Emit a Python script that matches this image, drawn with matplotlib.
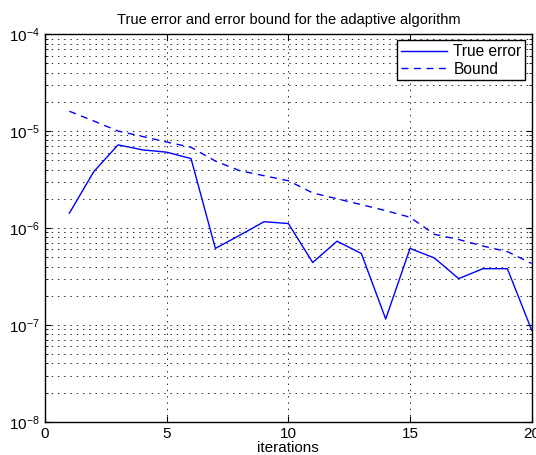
import numpy as np
import matplotlib
matplotlib.use('Agg')
from matplotlib import pyplot as plt
from matplotlib.ticker import LogLocator, NullFormatter

plt.rcParams['font.family'] = ['Liberation Sans', 'DejaVu Sans']
plt.rcParams['lines.scale_dashes'] = False

iterations = np.arange(1, 21)
true_error = [1.42e-6, 3.8e-6, 7.2e-6, 6.4e-6, 6.05e-6, 5.2e-6, 6.15e-7, 8.4e-7, 1.16e-6, 1.11e-6,
              4.4e-7, 7.3e-7, 5.45e-7, 1.15e-7, 6.15e-7, 4.9e-7, 3.0e-7, 3.8e-7, 3.8e-7, 8.8e-8]
bound = [1.6e-5, 1.27e-5, 1.0e-5, 8.8e-6, 7.7e-6, 6.8e-6, 4.9e-6, 3.9e-6, 3.46e-6, 3.07e-6,
         2.3e-6, 2.0e-6, 1.74e-6, 1.51e-6, 1.29e-6, 8.6e-7, 7.6e-7, 6.5e-7, 5.7e-7, 4.3e-7]

fig = plt.figure(figsize=(5.36, 4.55), dpi=100)
ax = fig.add_axes([0.084, 0.073, 0.908, 0.852])

ax.semilogy(iterations, true_error, color='#0000ff', lw=1.0, label='True error')
ax.semilogy(iterations, bound, color='#0000ff', lw=1.0, dashes=(5, 4), label='Bound')

ax.set_xlim(0, 20)
ax.set_ylim(1e-8, 1e-4)
ax.set_xticks([0, 5, 10, 15, 20])
ax.yaxis.set_major_locator(LogLocator(base=10, numticks=10))
ax.yaxis.set_minor_locator(LogLocator(base=10, subs=np.arange(2, 10), numticks=20))
ax.yaxis.set_minor_formatter(NullFormatter())

# dotted grid on major x ticks and all y decades/sub-decades
grid_style = dict(color='black', lw=0.6, linestyle=(0, (1, 3.5)))
ax.grid(True, which='major', axis='both', **grid_style)
ax.grid(True, which='minor', axis='y', **grid_style)

ax.tick_params(which='both', direction='in', top=True, right=True, labelsize=11)
ax.tick_params(which='major', length=4)
ax.tick_params(which='minor', length=2)
for s in ax.spines.values():
    s.set_linewidth(1.0)

ax.set_title('True error and error bound for the adaptive algorithm', fontsize=10.5, pad=7)
ax.set_xlabel('iterations', fontsize=11, labelpad=0)

leg = ax.legend(loc='upper right', fontsize=11.2, fancybox=False, framealpha=1,
                edgecolor='black', borderaxespad=0.4, handlelength=3.0,
                borderpad=0.25, labelspacing=0.15, handletextpad=0.4)
leg.get_frame().set_linewidth(1.0)

fig.savefig('out.png', dpi=100)
